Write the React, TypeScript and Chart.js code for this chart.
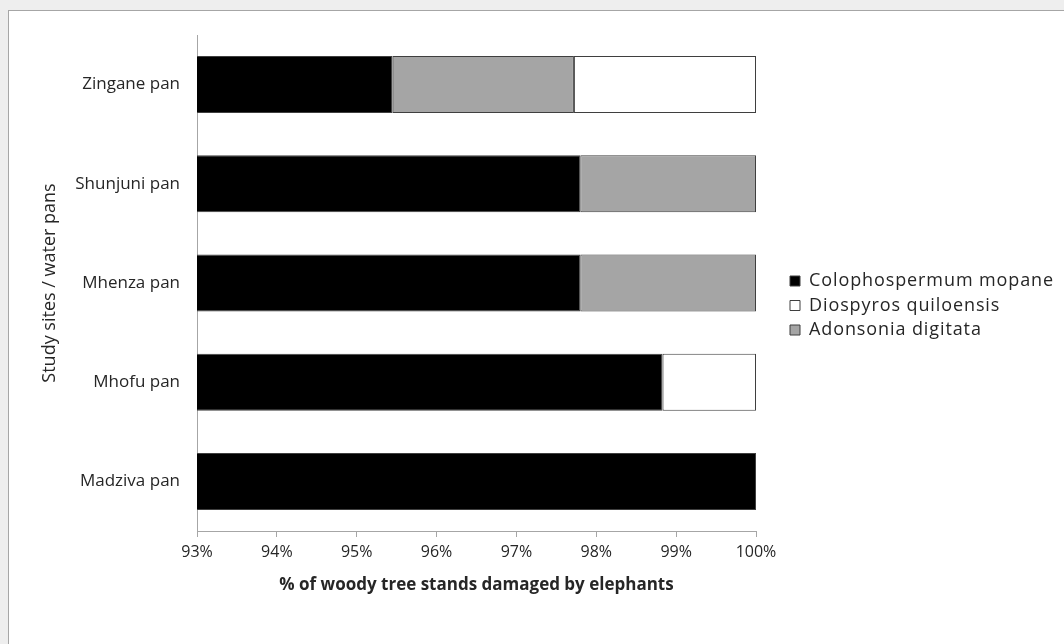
import React, { useEffect, useRef } from "react";
import { Chart, registerables } from "chart.js";

Chart.register(...registerables);

// ---- data ----
const sites = ["Zingane pan", "Shunjuni pan", "Mhenza pan", "Mhofu pan", "Madziva pan"];
const colophospermumMopane = [95.45, 97.8, 97.8, 98.83, 100];
const adonsoniaDigitata = [2.27, 2.2, 2.2, null, null];
const diospyrosQuiloensis = [2.28, null, null, 1.17, null];
const xMin = 93;
const xMax = 100;
const xStep = 1;
const xTitle = "% of woody tree stands damaged by elephants";
const yTitle = "Study sites / water pans";
const legendOrder = ["Colophospermum mopane", "Diospyros quiloensis", "Adonsonia digitata"];

// ---- layout / style ----
const W = 1064;
const H = 644;
const FONT = "'Open Sans', sans-serif";
const TEXT = "#262626";
const AXIS = "#a6a6a6";
const EDGE = "#3f3f3f";
const PLOT_RIGHT = 756;
const LEGEND_FONT = 18;
const LEGEND_BOX_X = 790;
const LEGEND_FIRST_CENTER = 281;
const LEGEND_PAD = 6.5;
const LEGEND_SPACING = "0.9px";

const legendPlacer = {
  id: "legendPlacer",
  beforeLayout(chart: any) {
    const lg = chart.legend;
    if (lg && !lg.__patched) {
      const fit = lg.fit.bind(lg);
      lg.fit = function () {
        fit();
        this.width = W - PLOT_RIGHT;
      };
      const draw = lg.draw.bind(lg);
      lg.draw = function () {
        const ctx = this.ctx;
        ctx.save();
        (ctx as any).letterSpacing = LEGEND_SPACING;
        draw();
        ctx.restore();
      };
      lg.__patched = true;
    }
  },
  afterLayout(chart: any) {
    const lg = chart.legend;
    if (!lg) return;
    const shift = LEGEND_BOX_X - (lg.left + LEGEND_PAD);
    lg.left += shift;
    lg.right += shift;
    const h = lg.bottom - lg.top;
    lg.top = LEGEND_FIRST_CENTER - LEGEND_FONT / 2 - LEGEND_PAD;
    lg.bottom = lg.top + h;
  },
};

export default function App() {
  const ref = useRef<HTMLCanvasElement>(null);

  useEffect(() => {
    const clip = { left: 0, top: 4, right: 4, bottom: 4 };
    const chart = new Chart(ref.current!, {
      type: "bar",
      data: {
        labels: sites,
        datasets: [
          {
            label: "Colophospermum mopane",
            data: colophospermumMopane,
            backgroundColor: "#000000",
            borderColor: EDGE,
            borderWidth: 1,
            borderSkipped: false,
            clip,
          } as any,
          {
            label: "Adonsonia digitata",
            data: adonsoniaDigitata,
            backgroundColor: "#a5a5a5",
            borderColor: EDGE,
            borderWidth: 1,
            borderSkipped: false,
            clip,
          },
          {
            label: "Diospyros quiloensis",
            data: diospyrosQuiloensis,
            backgroundColor: "#ffffff",
            borderColor: EDGE,
            borderWidth: 1,
            borderSkipped: false,
            clip,
          },
        ],
      },
      options: {
        indexAxis: "y",
        responsive: false,
        animation: false,
        devicePixelRatio: 1,
        datasets: { bar: { categoryPercentage: 1, barPercentage: 0.575 } },
        layout: { padding: { left: 39, top: 35, right: 0, bottom: 49 } },
        scales: {
          x: {
            type: "linear",
            stacked: true,
            min: xMin,
            max: xMax,
            grid: {
              display: true,
              drawOnChartArea: false,
              drawTicks: true,
              tickLength: 6,
              color: AXIS,
            },
            border: { display: true, color: AXIS, width: 1 },
            ticks: {
              stepSize: xStep,
              padding: 6,
              color: TEXT,
              font: { family: FONT, size: 16 },
              maxRotation: 0,
              callback: (v: any) => `${v}%`,
            },
            title: {
              display: true,
              text: xTitle,
              color: TEXT,
              font: { family: FONT, size: 17, weight: "bold" },
              padding: 0,
            },
            afterFit: (s: any) => {
              s.height = H - 49 - 531;
            },
          },
          y: {
            type: "category",
            stacked: true,
            grid: { display: true, drawOnChartArea: false, drawTicks: false },
            border: { display: true, color: AXIS, width: 1 },
            ticks: {
              padding: 17,
              color: TEXT,
              font: { family: FONT, size: 17 },
            },
            title: {
              display: true,
              text: yTitle,
              color: TEXT,
              font: { family: FONT, size: 18 },
              padding: 0,
            },
            afterFit: (s: any) => {
              s.width = 197 - 39;
            },
          },
        },
        plugins: {
          tooltip: { enabled: false },
          legend: {
            display: true,
            position: "right",
            align: "start",
            labels: {
              boxWidth: 10,
              boxHeight: 10,
              padding: LEGEND_PAD,
              color: TEXT,
              font: { family: FONT, size: LEGEND_FONT },
              sort: (a: any, b: any) =>
                legendOrder.indexOf(a.text) - legendOrder.indexOf(b.text),
            },
          },
        },
      },
      plugins: [legendPlacer],
    });
    return () => chart.destroy();
  }, []);

  return (
    <div style={{ position: "fixed", inset: 0, background: "#eeeeee", overflow: "hidden" }}>
      <div
        style={{
          position: "absolute",
          left: 8,
          top: 10,
          width: 1100,
          height: 700,
          background: "#ffffff",
          border: "1px solid #a6a6a6",
        }}
      />
      <canvas
        ref={ref}
        width={W}
        height={H}
        style={{ position: "absolute", left: 0, top: 0, width: W, height: H }}
      />
    </div>
  );
}
